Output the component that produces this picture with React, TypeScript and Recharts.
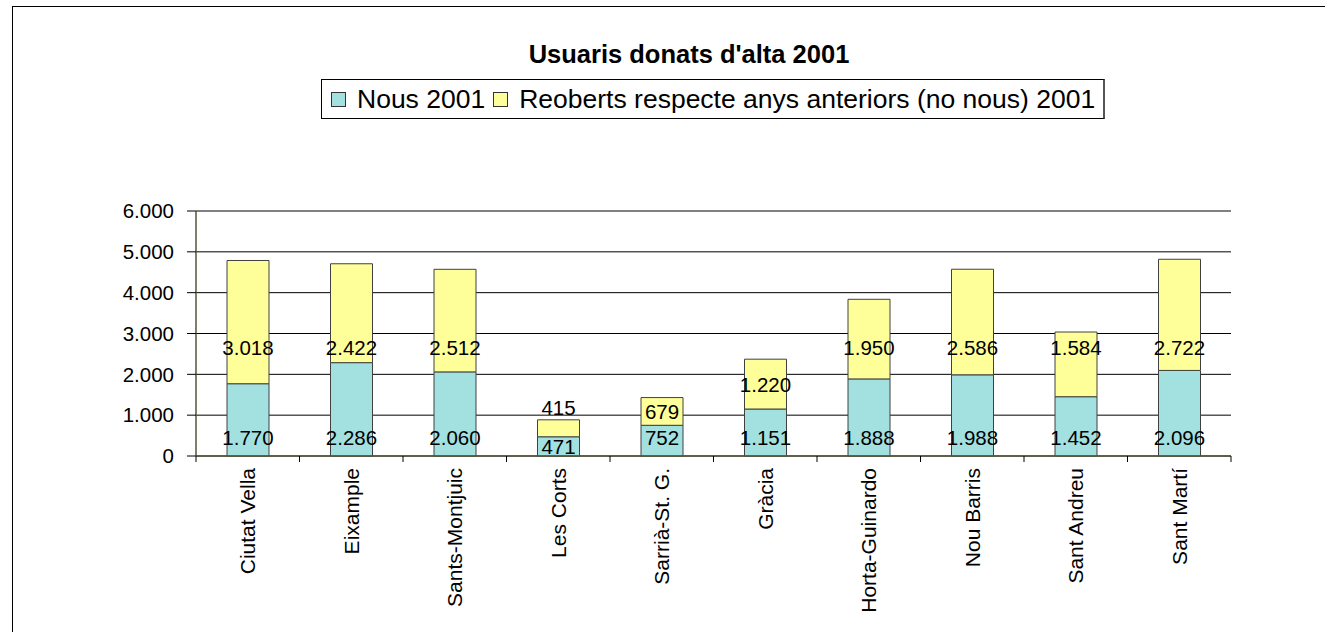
import React from 'react';
import { BarChart, Bar, XAxis, YAxis, CartesianGrid, LabelList } from 'recharts';

const districts = [
  'Ciutat Vella',
  'Eixample',
  'Sants-Montjuic',
  'Les Corts',
  'Sarrià-St. G.',
  'Gràcia',
  'Horta-Guinardo',
  'Nou Barris',
  'Sant Andreu',
  'Sant Martí',
];
const nous2001 = [1770, 2286, 2060, 471, 752, 1151, 1888, 1988, 1452, 2096];
const reoberts2001 = [3018, 2422, 2512, 415, 679, 1220, 1950, 2586, 1584, 2722];
const yTicks = [0, 1000, 2000, 3000, 4000, 5000, 6000];
const chartTitle = "Usuaris donats d'alta 2001";
const seriesNames = ['Nous 2001', 'Reoberts respecte anys anteriors (no nous) 2001'];

const data = districts.map((d, i) => ({ name: d, nous: nous2001[i], reoberts: reoberts2001[i] }));

const FONT = '"Liberation Sans", Arial, Helvetica, sans-serif';
const NOUS_COLOR = '#A3E0E0';
const REOB_COLOR = '#FFFF99';

const fmt = (v: number) => String(v).replace(/\B(?=(\d{3})+(?!\d))/g, '.');

// preferred anchor levels (in data units) for the value labels
const NOUS_LABEL_LEVEL = 450;
const REOB_LABEL_LEVEL = 2650;

const makeLabel = (series: 'nous' | 'reoberts') => (props: any) => {
  const { x, y, width, height, value, index } = props;
  if (value == null || !height) return null;
  const bottom = y + height;
  const base = series === 'nous' ? 0 : nous2001[index];
  const level = series === 'nous' ? NOUS_LABEL_LEVEL : REOB_LABEL_LEVEL;
  const pxPerUnit = height / value;
  let ty = bottom - (level - base) * pxPerUnit;
  if (!(ty >= y + 9 && ty <= bottom - 9)) ty = y + height / 2;
  if (series === 'reoberts' && height < 22) ty = y - 12;
  return (
    <text
      x={x + width / 2}
      y={ty}
      textAnchor="middle"
      dominantBaseline="central"
      fontFamily={FONT}
      fontSize={20.5}
      fill="#000"
    >
      {fmt(value)}
    </text>
  );
};

const XTick = (props: any) => {
  const { x, y, payload, index, visibleTicksCount, width } = props;
  const n = visibleTicksCount || districts.length;
  const half = width ? width / (2 * n) : 51.75;
  const axisY = y - 12;
  return (
    <g>
      <line x1={x - half} x2={x - half} y1={axisY} y2={axisY + 6} stroke="#000" strokeWidth={1} />
      {index === n - 1 && (
        <line x1={x + half} x2={x + half} y1={axisY} y2={axisY + 6} stroke="#000" strokeWidth={1} />
      )}
      <text
        x={x}
        y={y}
        transform={`rotate(-90, ${x}, ${y})`}
        textAnchor="end"
        dy="0.35em"
        fontFamily={FONT}
        fontSize={21}
        fill="#000"
      >
        {payload.value}
      </text>
    </g>
  );
};

export default function App() {
  return (
    <div style={{ position: 'absolute', left: 0, top: 0, width: 1325, height: 632, background: '#fff', overflow: 'hidden' }}>
      <div
        style={{
          position: 'absolute',
          left: 12,
          top: 6,
          width: 1330,
          height: 640,
          border: '1.5px solid #000',
          boxSizing: 'border-box',
        }}
      />
      <div
        style={{
          position: 'absolute',
          left: 389,
          width: 600,
          top: 39,
          textAlign: 'center',
          fontFamily: FONT,
          fontWeight: 'bold',
          fontSize: 25.5,
          color: '#000',
          lineHeight: '30px',
          whiteSpace: 'nowrap',
        }}
      >
        {chartTitle}
      </div>
      <div
        style={{
          position: 'absolute',
          left: 321,
          top: 79,
          height: 40,
          boxSizing: 'border-box',
          borderTop: '1px solid #000',
          borderLeft: '1px solid #000',
          borderBottom: '1.5px solid #000',
          borderRight: '2px solid #555',
          display: 'flex',
          alignItems: 'center',
          padding: '0 8px 0 9px',
          fontFamily: FONT,
          fontSize: 26.5,
          color: '#000',
          whiteSpace: 'nowrap',
        }}
      >
        {[NOUS_COLOR, REOB_COLOR].map((c, i) => (
          <React.Fragment key={i}>
            <span
              style={{
                display: 'inline-block',
                width: 13,
                height: 13,
                background: c,
                border: '1px solid #333',
                marginRight: 11,
                marginLeft: i === 0 ? 0 : 8,
              }}
            />
            <span>{seriesNames[i]}</span>
          </React.Fragment>
        ))}
      </div>
      <div style={{ position: 'absolute', left: 0, top: 0 }}>
        <BarChart
          width={1325}
          height={632}
          data={data}
          margin={{ top: 211, right: 94, bottom: 26, left: 136 }}
          barCategoryGap={0}
        >
          <CartesianGrid vertical={false} stroke="#000" strokeWidth={1} />
          <XAxis
            dataKey="name"
            interval={0}
            height={150}
            tickSize={6}
            tickMargin={6}
            tickLine={false}
            axisLine={{ stroke: '#55553a', strokeWidth: 1.5 }}
            tick={<XTick />}
          />
          <YAxis
            width={60}
            domain={[0, 6000]}
            ticks={yTicks}
            tickFormatter={fmt}
            tickSize={9}
            tickMargin={13}
            tickLine={{ stroke: '#000' }}
            axisLine={{ stroke: '#55553a', strokeWidth: 1.5 }}
            tick={{ fontFamily: FONT, fontSize: 20.5, fill: '#000' }}
            interval={0}
          />
          <YAxis
            yAxisId="right"
            orientation="right"
            width={0}
            domain={[0, 6000]}
            tick={false}
            tickLine={false}
            axisLine={{ stroke: '#808080', strokeWidth: 1.5 }}
          />
          <Bar dataKey="nous" stackId="a" fill={NOUS_COLOR} stroke="#404040" strokeWidth={1} barSize={42} isAnimationActive={false}>
            <LabelList dataKey="nous" content={makeLabel('nous')} />
          </Bar>
          <Bar dataKey="reoberts" stackId="a" fill={REOB_COLOR} stroke="#404040" strokeWidth={1} barSize={42} isAnimationActive={false}>
            <LabelList dataKey="reoberts" content={makeLabel('reoberts')} />
          </Bar>
        </BarChart>
      </div>
    </div>
  );
}
